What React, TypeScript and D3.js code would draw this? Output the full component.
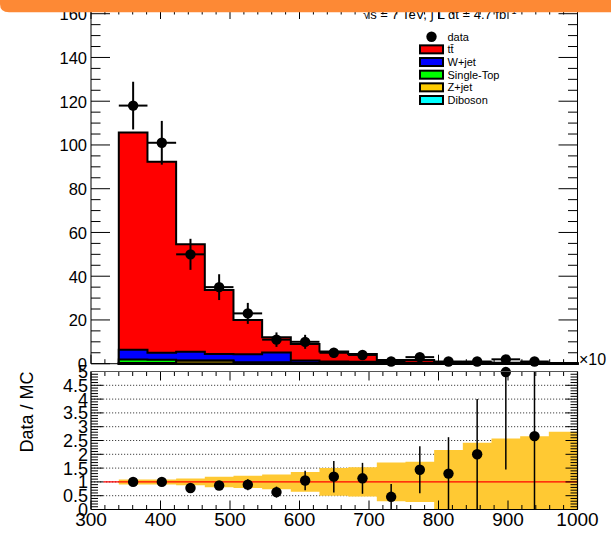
import React from "react";
import * as d3 from "d3";

// ---------------- data ----------------
const binEdges = [340, 381.25, 422.5, 463.75, 505, 546.25, 587.5, 628.75, 670, 711.25, 752.5, 793.75, 835, 876.25, 917.5, 958.75, 1000];

// stacked MC components (events per bin)
const diboson = [0.05, 0.05, 0.05, 0.05, 0.05, 0.05, 0.05, 0.03, 0.03, 0.02, 0.02, 0.02, 0.01, 0.01, 0.01, 0.01];
const zjet = [0.3, 0.3, 1.3, 1.3, 0.3, 0.3, 0.1, 0.1, 0.1, 0.05, 0.05, 0.05, 0.03, 0.03, 0.02, 0.02];
const singleTop = [1.6, 1.4, 0.15, 0.15, 0.3, 0.3, 0.3, 0.2, 0.2, 0.1, 0.1, 0.05, 0.05, 0.05, 0.05, 0.03];
const wjet = [4.4, 3.2, 4.0, 2.9, 3.7, 4.5, 1.0, 0.7, 0.6, 0.3, 0.3, 0.2, 0.15, 0.1, 0.1, 0.1];
const ttbar = [99.3, 87.4, 49.1, 29.3, 15.6, 6.9, 7.6, 4.6, 3.5, 1.2, 1.2, 0.5, 0.4, 0.3, 0.3, 0.2];

// data (first 15 bins)
const dataCounts = [118, 101, 50, 35, 23, 11, 10, 5, 4, 1, 3, 1, 1, 2, 1];
const dataErrors = [10.9, 10, 7.1, 5.9, 4.8, 3.3, 3.2, 2.2, 2, 1, 1.7, 1, 1, 1.4, 1];

// ratio panel
const ratioValues = [1.0, 1.0, 0.78, 0.87, 0.9, 0.63, 1.05, 1.19, 1.13, 0.46, 1.44, 1.3, 2.0, 4.98, 2.66];
const ratioErrors = [0.1, 0.1, 0.12, 0.15, 0.2, 0.2, 0.35, 0.57, 0.56, 0.46, 0.85, 1.32, 2.0, 3.53, 2.66];
const bandUnc = [0.09, 0.09, 0.12, 0.19, 0.22, 0.27, 0.36, 0.5, 0.53, 0.7, 0.73, 1.16, 1.42, 1.57, 1.65, 1.82];
const refLineStart = 318;

const yTickValues = [0, 20, 40, 60, 80, 100, 120, 140, 160];
const ratioTickValues = [0, 0.5, 1, 1.5, 2, 2.5, 3, 3.5, 4, 4.5, 5];
const xTickValues = [300, 400, 500, 600, 700, 800, 900, 1000];

const legendItems = [
  { label: "data", color: "marker" },
  { label: "tt\u0304", color: "#ff0000" },
  { label: "W+jet", color: "#0000ff" },
  { label: "Single-Top", color: "#00ff00" },
  { label: "Z+jet", color: "#ffcc00" },
  { label: "Diboson", color: "#00ffff" },
];

// ---------------- layout ----------------
const W = 611;
const H = 535;
const FONT = "'Liberation Sans', Arial, Helvetica, sans-serif";
const xL = 91, xR = 577.5;
const topY0 = 363.7, topY1 = 10;
const rTop = 371.5, rBot = 509.5;
const MR = 5.2;

export default function App() {
  const x = d3.scaleLinear().domain([300, 1000]).range([xL, xR]);
  const y = d3.scaleLinear().domain([0, 161.7]).range([topY0, topY1]);
  const yr = d3.scaleLinear().domain([0, 5]).range([rBot, rTop]);

  const nb = binEdges.length - 1;
  const centers = d3.range(nb).map((i) => (binEdges[i] + binEdges[i + 1]) / 2);

  // cumulative stacks, bottom -> top
  const layers = [diboson, zjet, singleTop, wjet, ttbar];
  const colors = ["#00ffff", "#ffcc00", "#00ff00", "#0000ff", "#ff0000"];
  const cum: number[][] = [];
  layers.forEach((arr, li) => {
    cum.push(arr.map((v, i) => v + (li > 0 ? cum[li - 1][i] : 0)));
  });

  const stepPath = (vals: number[]) => {
    let p = `M${x(binEdges[0])},${y(0)}`;
    vals.forEach((v, i) => {
      p += `L${x(binEdges[i])},${y(v)}L${x(binEdges[i + 1])},${y(v)}`;
    });
    p += `L${x(binEdges[nb])},${y(0)}Z`;
    return p;
  };

  // band path
  let band = "";
  bandUnc.forEach((u, i) => {
    const hi = Math.min(5, 1 + u);
    band += `${i === 0 ? "M" : "L"}${x(binEdges[i])},${yr(hi)}L${x(binEdges[i + 1])},${yr(hi)}`;
  });
  for (let i = nb - 1; i >= 0; i--) {
    const lo = Math.max(0, 1 - bandUnc[i]);
    band += `L${x(binEdges[i + 1])},${yr(lo)}L${x(binEdges[i])},${yr(lo)}`;
  }
  band += "Z";

  const xMinor = d3.range(300, 1000.1, 20);
  const yMinor = d3.range(0, 161, 5);
  const rMinor = d3.range(0, 5.01, 0.1);

  const ticks: JSX.Element[] = [];
  // top panel ticks
  yMinor.forEach((v, i) => {
    const major = Math.abs(v % 20) < 1e-6;
    const len = major ? 19 : 9.5;
    ticks.push(<line key={`yl${i}`} x1={xL} x2={xL + len} y1={y(v)} y2={y(v)} />);
    ticks.push(<line key={`yr${i}`} x1={xR} x2={xR - len} y1={y(v)} y2={y(v)} />);
  });
  xMinor.forEach((v, i) => {
    const major = Math.abs(v % 100) < 1e-6;
    const len = major ? 9 : 4.5;
    ticks.push(<line key={`xb${i}`} x1={x(v)} x2={x(v)} y1={topY0} y2={topY0 - len} />);
    ticks.push(<line key={`xt${i}`} x1={x(v)} x2={x(v)} y1={topY1} y2={topY1 + len} />);
  });

  const rticks: JSX.Element[] = [];
  rMinor.forEach((v, i) => {
    const major = Math.abs(v * 2 - Math.round(v * 2)) < 1e-6;
    const len = major ? 12 : 7;
    rticks.push(<line key={`rl${i}`} x1={xL} x2={xL + len} y1={yr(v)} y2={yr(v)} />);
    rticks.push(<line key={`rr${i}`} x1={xR} x2={xR - len} y1={yr(v)} y2={yr(v)} />);
  });
  xMinor.forEach((v, i) => {
    const major = Math.abs(v % 100) < 1e-6;
    const len = major ? 9 : 4.5;
    rticks.push(<line key={`rb${i}`} x1={x(v)} x2={x(v)} y1={rBot} y2={rBot - len} />);
    rticks.push(<line key={`rt${i}`} x1={x(v)} x2={x(v)} y1={rTop} y2={rTop + len} />);
  });

  const legX = 420, legY0 = 36.7, legDy = 12.66;

  return (
    <svg width={W} height={H} style={{ position: "absolute", left: 0, top: 0, background: "#fff" }} fontFamily={FONT}>
      <rect x={0} y={0} width={W} height={H} fill="#fff" />
      {/* ---------- top panel ---------- */}
      <g stroke="#000" strokeWidth={1}>{ticks}</g>
      {cum
        .map((vals, li) => ({ vals, li }))
        .reverse()
        .map(({ vals, li }) => (
          <path key={`st${li}`} d={stepPath(vals)} fill={colors[li]} stroke="#000" strokeWidth={2} strokeLinejoin="miter" />
        ))}
      {/* frame */}
      <g stroke="#000" strokeWidth={1} fill="none">
        <line x1={xL} x2={xL} y1={topY1} y2={topY0} />
        <line x1={xR} x2={xR} y1={topY1} y2={topY0} />
        <line x1={xL} x2={xR} y1={topY0} y2={topY0} />
        <line x1={xL} x2={xR} y1={topY1} y2={topY1} />
      </g>
      {/* data */}
      <g stroke="#000" strokeWidth={2}>
        {dataCounts.map((v, i) => (
          <g key={`d${i}`}>
            <line x1={x(binEdges[i])} x2={x(binEdges[i + 1])} y1={y(v)} y2={y(v)} />
            <line x1={x(centers[i])} x2={x(centers[i])} y1={y(v + dataErrors[i])} y2={y(Math.max(0, v - dataErrors[i]))} />
            <circle cx={x(centers[i])} cy={y(v)} r={MR} fill="#000" stroke="none" />
          </g>
        ))}
      </g>
      {/* y labels */}
      <g fontSize={16.5} fill="#000" textAnchor="end">
        {yTickValues.map((v) => (
          <text key={`yt${v}`} x={87} y={y(v) + 6.5}>{v}</text>
        ))}
      </g>
      <text x={579} y={365} fontSize={16}>{"\u00d710"}</text>

      {/* legend */}
      {legendItems.map((it, i) => {
        const cy = legY0 + i * legDy;
        return (
          <g key={`lg${i}`}>
            {it.color === "marker" ? (
              <circle cx={legX + 11.5} cy={cy} r={MR} fill="#000" />
            ) : (
              <rect x={legX} y={cy - 4} width={23} height={8} fill={it.color} stroke="#000" strokeWidth={2} />
            )}
            <text x={447.5} y={cy + 4} fontSize={11}>{it.label}</text>
          </g>
        );
      })}

      {/* title (partly under banner) */}
      <text x={363} y={19.3} fontSize={13}>{"\u221As = 7 TeV, \u222B L dt = 4.7 fb"}<tspan dy={-5} fontSize={9}>{"\u22121"}</tspan></text>

      {/* ---------- ratio panel ---------- */}
      <g stroke="#444" strokeWidth={1} strokeDasharray="1.2,1.8">
        {ratioTickValues.filter((v) => v > 0 && v < 5).map((v) => (
          <line key={`g${v}`} x1={xL} x2={xR} y1={yr(v)} y2={yr(v)} />
        ))}
      </g>
      <path d={band} fill="#ffc933" stroke="none" />
      <line x1={x(refLineStart)} x2={xR} y1={yr(1)} y2={yr(1)} stroke="#ff0000" strokeWidth={1.3} />
      <g stroke="#000" strokeWidth={1.5}>
        {ratioValues.map((v, i) => (
          <g key={`r${i}`}>
            <line x1={x(centers[i])} x2={x(centers[i])} y1={yr(Math.min(5, v + ratioErrors[i]))} y2={yr(Math.max(0, v - ratioErrors[i]))} />
            <circle cx={x(centers[i])} cy={yr(v)} r={MR} fill="#000" stroke="none" />
          </g>
        ))}
      </g>
      <g stroke="#000" strokeWidth={1}>{rticks}</g>
      <g stroke="#000" strokeWidth={1.2} fill="none">
        <line x1={xL} x2={xL} y1={rTop} y2={rBot} />
        <line x1={xR} x2={xR} y1={rTop} y2={rBot} />
        <line x1={xL} x2={xR} y1={rBot} y2={rBot} />
        <line x1={xL} x2={xR} y1={rTop} y2={rTop} stroke="#555" />
      </g>
      <g fontSize={18} fill="#000" textAnchor="end">
        {ratioTickValues.map((v) => (
          <text key={`rt${v}`} x={88} y={yr(v) + 6.5}>{v}</text>
        ))}
      </g>
      <g fontSize={19} fill="#000" textAnchor="middle">
        {xTickValues.map((v) => (
          <text key={`xl${v}`} x={x(v)} y={526}>{v}</text>
        ))}
      </g>
      <text transform={`translate(33,412) rotate(-90)`} textAnchor="middle" fontSize={18}>Data / MC</text>

      {/* banner */}
      <path d={`M0,0H${W}V12.3H9Q0,12.3 0,4Z`} fill="#fd8935" />
    </svg>
  );
}
